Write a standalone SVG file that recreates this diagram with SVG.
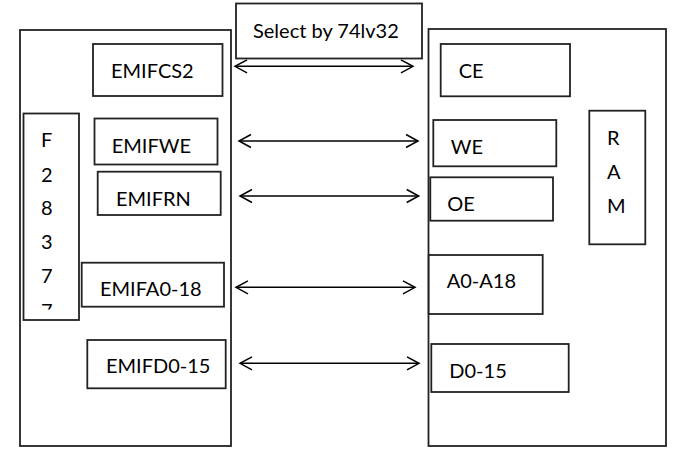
<svg xmlns="http://www.w3.org/2000/svg" width="680" height="459" viewBox="0 0 680 459">
<style>
.box{fill:#fff;stroke:#222;stroke-width:1.8}
.t{font-family:Lato,"Liberation Sans",sans-serif;font-size:20px;fill:#000}
.c{stroke:#000;stroke-width:1.5;fill:none}
</style>
<defs>
<marker id="ah" markerUnits="userSpaceOnUse" viewBox="-13 -8 15 16" refX="0" refY="0" markerWidth="15" markerHeight="16" orient="auto-start-reverse">
<path d="M-12,-6.5 L0,0 L-12,6.5" fill="none" stroke="#000" stroke-width="1.5"/>
</marker>
<clipPath id="fclip"><rect x="24" y="114" width="54" height="195.5"/></clipPath>
</defs>
<rect width="680" height="459" fill="#fff"/>
<g id="mcu">
<rect class="box" x="20" y="30" width="211" height="416"/>
</g>
<g id="ram">
<rect class="box" x="428.5" y="29" width="237.5" height="417"/>
</g>
<g id="select">
<rect class="box" x="236" y="3.5" width="186" height="55"/>
<text class="t" x="253" y="37.5">Select by 74lv32</text>
</g>
<g id="f28377">
<rect class="box" x="23.5" y="113.5" width="55.5" height="206.5"/>
<g clip-path="url(#fclip)">
<text class="t" x="41" y="146.7">F</text>
<text class="t" x="41" y="181.7">2</text>
<text class="t" x="41" y="215">8</text>
<text class="t" x="41" y="249">3</text>
<text class="t" x="41" y="282.7">7</text>
<text class="t" x="41" y="318">7</text>
</g>
</g>
<g id="emifcs2">
<rect class="box" x="93" y="44" width="129.5" height="52"/>
<text class="t" x="111" y="78">EMIFCS2</text>
</g>
<g id="emifwe">
<rect class="box" x="94.5" y="118.5" width="123" height="46"/>
<text class="t" x="111.7" y="152.7">EMIFWE</text>
</g>
<g id="emifrn">
<rect class="box" x="97.7" y="171.7" width="123" height="43.3"/>
<text class="t" x="116" y="206">EMIFRN</text>
</g>
<g id="emifa">
<rect class="box" x="81.7" y="262.7" width="142.3" height="44"/>
<text class="t" x="100" y="296">EMIFA0-18</text>
</g>
<g id="emifd">
<rect class="box" x="87.3" y="340" width="138.4" height="48.3"/>
<text class="t" x="106" y="373.3">EMIFD0-15</text>
</g>
<g id="ce">
<rect class="box" x="440.7" y="44" width="129.3" height="52.3"/>
<text class="t" x="458.7" y="78.3">CE</text>
</g>
<g id="we">
<rect class="box" x="433.3" y="120" width="123" height="46.3"/>
<text class="t" x="450.7" y="153.7">WE</text>
</g>
<g id="oe">
<rect class="box" x="430.3" y="177.3" width="122.7" height="43.4"/>
<text class="t" x="447.3" y="210.7">OE</text>
</g>
<g id="ramlabel">
<rect class="box" x="589.3" y="110.7" width="56" height="133.6"/>
<text class="t" x="607" y="145">R</text>
<text class="t" x="607" y="179.3">A</text>
<text class="t" x="607" y="212.7">M</text>
</g>
<g id="a0a18">
<rect class="box" x="428.7" y="255" width="114" height="59"/>
<text class="t" x="446.7" y="288.3">A0-A18</text>
</g>
<g id="d015">
<rect class="box" x="431.3" y="344" width="137.4" height="48"/>
<text class="t" x="449.3" y="377.7">D0-15</text>
</g>
<g id="connectors">
<line class="c" x1="235" y1="66.3" x2="413" y2="66.3" marker-start="url(#ah)" marker-end="url(#ah)"/>
<line class="c" x1="239" y1="141" x2="418" y2="141" marker-start="url(#ah)" marker-end="url(#ah)"/>
<line class="c" x1="240" y1="196" x2="418.7" y2="196" marker-start="url(#ah)" marker-end="url(#ah)"/>
<line class="c" x1="236" y1="287.3" x2="415" y2="287.3" marker-start="url(#ah)" marker-end="url(#ah)"/>
<line class="c" x1="240" y1="363.3" x2="419" y2="363.3" marker-start="url(#ah)" marker-end="url(#ah)"/>
</g>
</svg>
